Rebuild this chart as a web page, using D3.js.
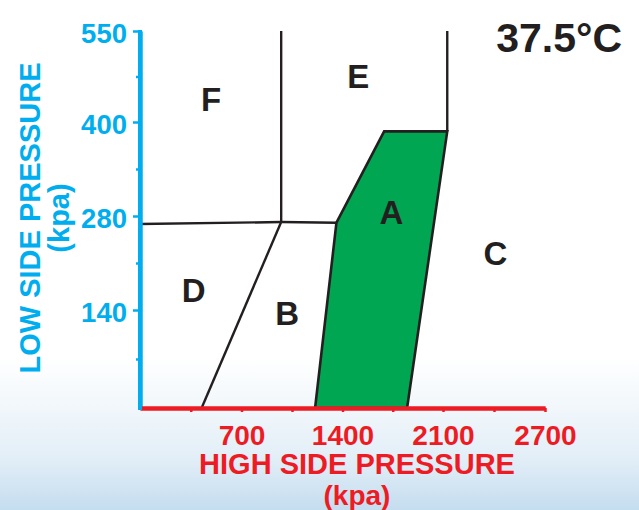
<!DOCTYPE html>
<html><head><meta charset="utf-8">
<script src="https://cdn.jsdelivr.net/npm/d3@7"></script>
<style>html,body{margin:0;padding:0;background:#fff;} svg{display:block;}</style>
</head><body>
<svg id="chart" width="639" height="510"></svg>
<script>
// ---- data ----
const xBreaks = [0, 700, 1400, 2100, 2700];          // kPa, high side (axis is piecewise)
const yBreaks = [0, 140, 280, 400, 550];             // kPa, low side (axis is piecewise)
const xMajorTicks = [700, 1400, 2100, 2700];
const xMinorTicks = [350, 1050, 1750, 2400];
const yMajorTicks = [140, 280, 400, 550];
const yMinorTicks = [70, 210, 340, 475];
const title = "37.5°C";

// zone boundaries, [high kPa, low kPa]
const lineFE = [[975, 550], [975, 271]];
const lineFD = [[0, 268], [975, 271]];
const lineDB = [[975, 271], [425, 0]];
const lineBE = [[975, 271], [1358, 270]];
const lineEC = [[2125, 388], [2125, 550]];
const zoneA  = [[1210, 0], [1358, 270], [1690, 388], [2125, 388], [1850, 0]];

const zoneNames = ["A", "B", "C", "D", "E", "F"];
const zoneHigh  = [1740, 1017, 2408, 370, 1509, 490];
const zoneLow   = [285, 135, 224, 170, 476, 437];

// ---- drawing ----
const svg = d3.select("#chart");
const W = 639, H = 510;
const FONT = "'Liberation Sans', Arial, Helvetica, sans-serif";
const INK = "#231f20", CYAN = "#00aeef", RED = "#ed1c24", GREEN = "#00a651";

const defs = svg.append("defs");
const grad = defs.append("linearGradient").attr("id", "bg")
  .attr("x1", 0).attr("y1", 0).attr("x2", 0).attr("y2", 1);
[[0, "#ffffff"], [0.70, "#ffffff"], [0.80, "#f1f7fb"], [0.90, "#e2eef7"], [1, "#c4ddef"]]
  .forEach(([o, c]) => grad.append("stop").attr("offset", o).attr("stop-color", c));
svg.append("rect").attr("width", W).attr("height", H).attr("fill", "url(#bg)");

const x = d3.scaleLinear().domain(xBreaks).range([140, 241.5, 342.5, 443, 545]);
const y = d3.scaleLinear().domain(yBreaks).range([408, 310, 216, 122, 31]);

const line = d3.line().x(d => x(d[0])).y(d => y(d[1]));

// green zone A
svg.append("path").datum(zoneA)
  .attr("d", line.curve(d3.curveLinearClosed))
  .attr("fill", GREEN).attr("stroke", INK).attr("stroke-width", 2.6)
  .attr("stroke-linejoin", "miter");
line.curve(d3.curveLinear);

[lineFE, lineFD, lineDB, lineBE, lineEC].forEach(seg => {
  svg.append("path").datum(seg).attr("d", line)
    .attr("fill", "none").attr("stroke", INK).attr("stroke-width", 2.4)
    .attr("stroke-linecap", "butt");
});

// y axis (cyan)
const yAxis = svg.append("g").attr("transform", `translate(${x(0)},0)`);
yAxis.append("g").call(d3.axisLeft(y).tickValues(yMajorTicks).tickFormat(d3.format("d"))
  .tickSize(7).tickPadding(6).tickSizeOuter(0));
yAxis.append("g").call(d3.axisLeft(y).tickValues(yMinorTicks).tickSize(4).tickFormat("").tickSizeOuter(0));
yAxis.selectAll(".domain").attr("stroke", CYAN).attr("stroke-width", 4);
yAxis.selectAll(".tick line").attr("stroke", CYAN).attr("stroke-width", 2.5);
yAxis.selectAll(".tick text").attr("fill", CYAN)
  .style("font-family", FONT).style("font-weight", "bold").style("font-size", "27.5px")
  .attr("dy", "0.42em");

// x axis (red)
const xAxis = svg.append("g").attr("transform", `translate(0,${y(0)})`);
xAxis.append("g").call(d3.axisBottom(x).tickValues(xMajorTicks).tickFormat(d3.format("d"))
  .tickSize(4).tickPadding(13).tickSizeOuter(0));
xAxis.append("g").call(d3.axisBottom(x).tickValues(xMinorTicks).tickSize(4).tickFormat("").tickSizeOuter(0));
xAxis.selectAll(".domain").attr("stroke", RED).attr("stroke-width", 4);
xAxis.selectAll(".tick line").attr("stroke", RED).attr("stroke-width", 2.5);
xAxis.selectAll(".tick text").attr("fill", RED)
  .style("font-family", FONT).style("font-weight", "bold").style("font-size", "28px");

// redraw the cyan axis over the red line start
svg.append("line").attr("x1", x(0)).attr("x2", x(0)).attr("y1", y(550) - 1).attr("y2", y(0) + 2)
  .attr("stroke", CYAN).attr("stroke-width", 4);

// zone labels
svg.append("g").selectAll("text").data(zoneNames).join("text")
  .attr("x", (d, i) => x(zoneHigh[i])).attr("y", (d, i) => y(zoneLow[i]))
  .attr("dy", "0.36em").attr("text-anchor", "middle")
  .attr("fill", INK).style("font-family", FONT).style("font-weight", "bold").style("font-size", "33px")
  .text(d => d);

// title
svg.append("text").attr("x", 622).attr("y", 51.5).attr("text-anchor", "end")
  .attr("fill", INK).style("font-family", FONT).style("font-weight", "bold").style("font-size", "41px")
  .text(title);

// axis titles
const xt = svg.append("g").attr("fill", RED).style("font-family", FONT)
  .style("font-weight", "bold").attr("text-anchor", "middle");
xt.append("text").attr("x", 357).attr("y", 473.5).style("font-size", "29px").text("HIGH SIDE PRESSURE");
xt.append("text").attr("x", 357).attr("y", 505).style("font-size", "28px").text("(kpa)");

const yt = svg.append("g").attr("fill", CYAN).style("font-family", FONT)
  .style("font-weight", "bold").style("font-size", "29px").attr("text-anchor", "middle");
yt.append("text").attr("transform", "translate(40,218) rotate(-90)").text("LOW SIDE PRESSURE");
yt.append("text").attr("transform", "translate(69,218) rotate(-90)").text("(kpa)");
</script>
</body></html>
